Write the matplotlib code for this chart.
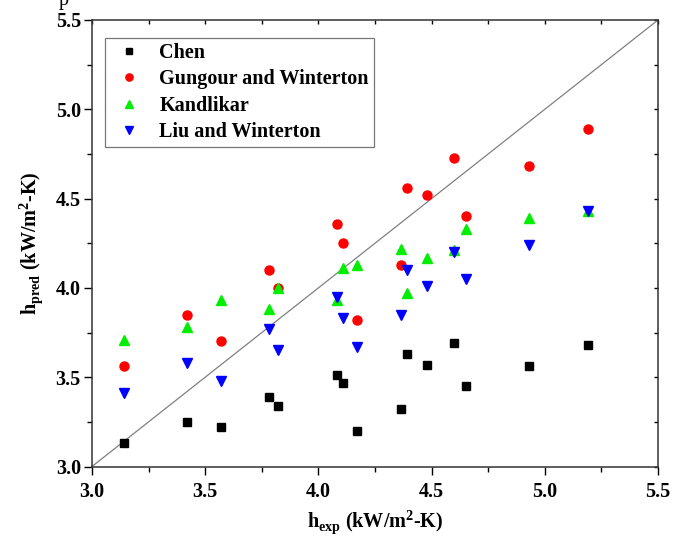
import matplotlib
matplotlib.use("Agg")
import matplotlib.pyplot as plt
from matplotlib.ticker import MultipleLocator

plt.rcParams["font.family"] = ["Liberation Serif", "DejaVu Serif"]
plt.rcParams["font.weight"] = "bold"
plt.rcParams["axes.labelweight"] = "bold"
plt.rcParams["mathtext.fontset"] = "custom"
plt.rcParams["mathtext.rm"] = "Liberation Serif:bold"
plt.rcParams["mathtext.bf"] = "Liberation Serif:bold"

# experimental heat transfer coefficient (kW/m2-K)
h_exp = [3.14, 3.42, 3.57, 3.78, 3.82, 4.08, 4.11, 4.17, 4.365, 4.39, 4.48, 4.60, 4.65, 4.93, 5.19]

# predicted values for each correlation
chen = [3.13, 3.25, 3.22, 3.39, 3.34, 3.51, 3.47, 3.20, 3.32, 3.63, 3.57, 3.69, 3.45, 3.56, 3.68]
gungour = [3.56, 3.85, 3.70, 4.10, 4.00, 4.36, 4.25, 3.82, 4.13, 4.56, 4.52, 4.73, 4.40, 4.68, 4.89]
kandlikar = [3.71, 3.78, 3.93, 3.88, 4.00, 3.93, 4.11, 4.13, 4.22, 3.97, 4.17, 4.21, 4.33, 4.39, 4.43]
liu = [3.41, 3.58, 3.48, 3.77, 3.65, 3.95, 3.83, 3.67, 3.85, 4.10, 4.01, 4.20, 4.05, 4.24, 4.43]

limits = [3.0, 5.5]

fig = plt.figure(figsize=(6.74, 5.4), dpi=100)
ax = fig.add_axes([0.1365, 0.1361, 0.8398, 0.8269])

ax.plot(limits, limits, color="#808080", lw=0.9, zorder=1)
ax.plot(h_exp, chen, "s", color="black", ms=6, ls="none", label="Chen")
ax.plot(h_exp, gungour, "o", color="#ff0000", ms=6.5, ls="none", label="Gungour and Winterton")
ax.plot(h_exp, kandlikar, "^", color="#00ee00", ms=7, ls="none", label="Kandlikar")
ax.plot(h_exp, liu, "v", color="#0000ff", ms=7, ls="none", label="Liu and Winterton")

ax.set_xlim(limits)
ax.set_ylim(limits)
for axis in (ax.xaxis, ax.yaxis):
    axis.set_major_locator(MultipleLocator(0.5))
    axis.set_minor_locator(MultipleLocator(0.25))
ax.tick_params(which="major", direction="out", length=6, width=1, labelsize=14.5, pad=2)
ax.tick_params(axis="x", which="major", pad=5)
ax.tick_params(which="minor", direction="out", length=3.5, width=1)
for sp in ax.spines.values():
    sp.set_linewidth(1.1)
    sp.set_color("#333333")

# inward ticks on top and right
top = ax.secondary_xaxis("top")
right = ax.secondary_yaxis("right")
for sec in (top, right):
    sec.tick_params(which="both", direction="in", length=3, width=1)
    sec.spines[:].set_visible(False)
top.xaxis.set_major_locator(MultipleLocator(0.5))
top.xaxis.set_minor_locator(MultipleLocator(0.25))
right.yaxis.set_major_locator(MultipleLocator(0.5))
right.yaxis.set_minor_locator(MultipleLocator(0.25))
top.set_xticklabels([])
right.set_yticklabels([])

ax.set_xlabel(r"h$_{\rm exp}$ (kW/m$^{\rm 2}$-K)", fontsize=14.5, labelpad=5)
ax.set_ylabel(r"h$_{\rm pred}$ (kW/m$^{\rm 2}$-K)", fontsize=14.5, labelpad=8)

leg = ax.legend(loc="upper left", bbox_to_anchor=(0.023, 0.96), borderaxespad=0,
                fontsize=14.5, frameon=True, fancybox=False, edgecolor="#555555",
                handlelength=1.9, handletextpad=0.55, labelspacing=0.32,
                borderpad=0.25, markerscale=0.8)
leg.get_frame().set_linewidth(0.9)

fig.text(0.087, 1.0, "p", fontsize=14.5, fontweight="normal", va="center", ha="left")

fig.savefig("out.png", dpi=100)
